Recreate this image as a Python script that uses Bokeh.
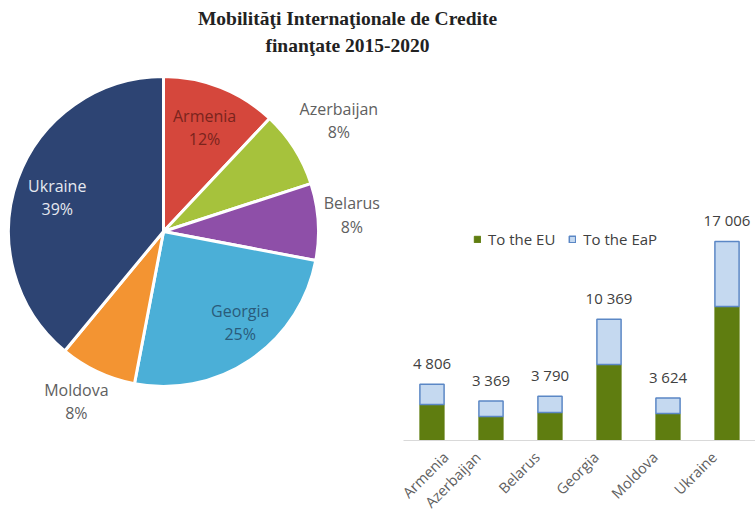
import math
from bokeh.plotting import figure
from bokeh.models import (ColumnDataSource, Range1d, Label,
                          LinearAxis, FixedTicker, LinearScale)
from bokeh.layouts import column, row
from bokeh.core.properties import value
from bokeh.embed import file_html
from bokeh.resources import INLINE

# ---------------- data ----------------
title_line1 = "Mobilităţi Internaţionale de Credite"
title_line2 = "finanţate 2015-2020"

pie_countries = ["Armenia", "Azerbaijan", "Belarus", "Georgia", "Moldova", "Ukraine"]
pie_percent = [12, 8, 8, 25, 8, 39]

bar_countries = ["Armenia", "Azerbaijan", "Belarus", "Georgia", "Moldova", "Ukraine"]
bar_total = [4806, 3369, 3790, 10369, 3624, 17006]
bar_eu = [3080, 2050, 2400, 6500, 2300, 11450]
legend_labels = ["To the EU", "To the EaP"]

# ---------------- style ----------------
pie_colors = ["#d5473c", "#a6c23c", "#8e4fa8", "#4bafd7", "#f39432", "#2d4473"]
pie_label_colors = ["#7a241c", "#606060", "#606060", "#2a5b7a", "#606060", "#e6e9f0"]
pie_label_radius = [0.72, 1.34, 1.22, 0.77, 1.23, 0.72]
pie_label_shift_deg = [0, 0, -1.4, -5.8, 2.0, -2.0]
FONT = "Open Sans"
FRAME_H = 372
PAD = -0.017          # category axis padding (category units)
LABEL_SHIFT = 0.22    # shift of rotated category labels (category units)

# ---------------- title ----------------
tf = figure(width=755, height=68, x_range=Range1d(0, 755), y_range=Range1d(0, 68),
            x_axis_type=None, y_axis_type=None, min_border=0,
            toolbar_location=None, output_backend="svg", outline_line_color=None)
for txt, yy in [(title_line1, 50), (title_line2, 23)]:
    tf.add_layout(Label(x=347, y=yy, text=txt, text_font="Liberation Serif",
                        text_font_style="bold", text_font_size="19.5px",
                        text_align="center", text_baseline="middle", text_color="#222222"))

# ---------------- pie ----------------
PW = 398
pf = figure(frame_width=PW, frame_height=FRAME_H, x_range=Range1d(0, PW), y_range=Range1d(0, FRAME_H),
            x_axis_type=None, y_axis_type=None, min_border=0, min_border_bottom=72,
            toolbar_location=None, output_backend="svg", outline_line_color=None)
cx, cy, r = 163, FRAME_H - 163, 155
total = sum(pie_percent)
starts, ends, lx, ly, labels = [], [], [], [], []
acc = 0
for c, pct, k, sh in zip(pie_countries, pie_percent, pie_label_radius, pie_label_shift_deg):
    f0 = acc / total
    f1 = (acc + pct) / total
    acc += pct
    starts.append(math.pi / 2 - 2 * math.pi * f1)
    ends.append(math.pi / 2 - 2 * math.pi * f0)
    mid = math.pi / 2 - (2 * math.pi * (f0 + f1) / 2 + math.radians(sh))
    lx.append(cx + k * r * math.cos(mid))
    ly.append(cy + k * r * math.sin(mid))
    labels.append(f"{c}\n{pct}%")
psrc = ColumnDataSource(dict(start=starts, end=ends, color=pie_colors,
                             lx=lx, ly=ly, label=labels, lcolor=pie_label_colors))
pf.wedge(x=cx, y=cy, radius=r, start_angle="start", end_angle="end",
         fill_color="color", line_color="white", line_width=3, source=psrc)
pf.text(x="lx", y="ly", text="label", text_color="lcolor", source=psrc,
        text_align="center", text_baseline="middle", text_font=value(FONT),
        text_font_size="16px", text_line_height=1.05)

# ---------------- bars ----------------
n = len(bar_countries)
pos = [i + 0.5 for i in range(n)]          # category slot centres
bsrc = ColumnDataSource(dict(
    pos=pos,
    eu=bar_eu,
    eap=[t - e for t, e in zip(bar_total, bar_eu)],
    total=bar_total,
    label=[f"{t:,}".replace(",", " ") for t in bar_total],
))
bf = figure(frame_width=352, frame_height=FRAME_H,
            x_range=Range1d(-PAD, n + PAD),
            y_range=Range1d(0, 31790), x_axis_location=None, y_axis_type=None,
            min_border_left=5, min_border_right=0, min_border_top=0, min_border_bottom=72,
            toolbar_location=None, output_backend="svg", outline_line_color=None)
bf.grid.visible = False
bf.vbar_stack(["eu", "eap"], x="pos", width=0.41, source=bsrc,
              fill_color=["#5f7d10", "#c5d9f0"], line_color=["#5f7d10", "#5b87c5"],
              line_width=[1, 1.5], legend_label=legend_labels)
bf.text(x="pos", y="total", text="label", source=bsrc, y_offset=-21,
        text_align="center", text_baseline="middle", text_font=value(FONT),
        text_font_size="15px", text_color="#404040")

# baseline axis (line only)
base = LinearAxis(major_tick_line_color=None, minor_tick_line_color=None,
                  major_label_text_font_size="0px", major_label_standoff=0,
                  axis_line_color="#d9d9d9",
                  ticker=FixedTicker(ticks=[], minor_ticks=[]))
bf.add_layout(base, "below")
# category label axis: labels nudged so that each rotated label ends under its bar
bf.extra_x_ranges = {"cats": Range1d(-PAD + LABEL_SHIFT, n + PAD + LABEL_SHIFT)}
bf.extra_x_scales = {"cats": LinearScale()}
ax = LinearAxis(x_range_name="cats",
                ticker=FixedTicker(ticks=pos, minor_ticks=[]),
                major_label_overrides={p: c for p, c in zip(pos, bar_countries)})
ax.axis_line_color = None
ax.major_tick_line_color = None
ax.minor_tick_line_color = None
ax.major_label_orientation = math.pi / 4
ax.major_label_text_font = FONT
ax.major_label_text_font_size = "14.5px"
ax.major_label_text_color = "#606060"
ax.major_label_standoff = 8
bf.add_layout(ax, "below")

lg = bf.legend[0]
lg.orientation = "horizontal"
lg.location = (70, 191)
lg.padding = 0
lg.margin = 0
lg.spacing = 13
lg.label_standoff = 7
lg.glyph_width = 8
lg.glyph_height = 8
lg.label_height = 20
lg.border_line_color = None
lg.background_fill_alpha = 0
lg.label_text_font = FONT
lg.label_text_font_size = "15px"
lg.label_text_color = "#404040"

layout = column(tf, row(pf, bf))
open("out.html", "w").write(file_html(layout, INLINE))
